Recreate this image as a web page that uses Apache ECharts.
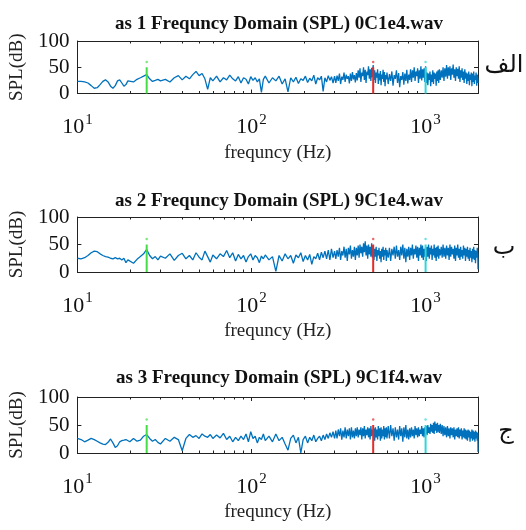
<!DOCTYPE html>
<html>
<head>
<meta charset="utf-8">
<script src="https://cdn.jsdelivr.net/npm/echarts@6/dist/echarts.min.js"></script>
<style>html,body{margin:0;padding:0;background:#fff;}#c{width:526px;height:530px;}</style>
</head>
<body>
<div id="c"></div>
<script>
// ---- data ----
const freqs = [10,10.5,11,11.5,12,12.5,13,13.5,14,14.5,15,15.5,16,16.5,17,17.5,18,18.5,19,19.5,20,21,22,23,24,25,26,27,28,29,30,
32,34,36,38,40,42,44,46,48,50,52,54,56,58,60,
63,66,69,72,75,78,81,84,87,90,93,96,99,102,105,108,111,114,117,120,
126,132,138,144,150,156,162,168,174,180,186,192,198,204,210,216,222,228,234,240,246,252,258,264,270,276,282,288,294,300,
305,310,315,320,325,330,335,340,345,350,355,360,365,370,375,380,385,390,395,400,
405,410,415,420,425,430,435,440,445,450,455,460,465,470,475,480,485,490,495,500,
505,510,515,520,525,530,535,540,545,550,555,560,565,570,575,580,585,590,595,600,
610,620,630,640,650,660,670,680,690,700,710,720,730,740,750,760,770,780,790,800,
810,820,830,840,850,860,870,880,890,900,910,920,930,940,950,960,970,980,990,1000,
1010,1020,1030,1040,1050,1060,1070,1080,1090,1100,1110,1120,1130,1140,1150,1160,1170,1180,1190,1200,
1215,1230,1245,1260,1275,1290,
1305,1320,1335,1350,1365,1380,1395,1410,1425,1440,1455,1470,1485,1500,1515,1530,1545,1560,1575,1590,1605,1620,1635,1650,1665,1680,1695,
1710,1725,1740,1755,1770,1785,1800,1815,1830,1845,1860,1875,1890,1905,1920,1935,1950,1965,1980,1995,2000];

const splA = [23,23,22,20,15,10,11,17,23,26,22,14,10,15,24,26,20,14,17,24,26,22,27,30,33,36,28,23,25,27,24,
27,22,30,34,26,33,28,36,42,34,38,28,8,30,24,
33,22,30,26,35,28,24,32,20,30,27,18,32,25,30,22,28,2,27,33,
20,30,24,33,18,28,3,30,22,31,19,28,25,33,21,29,24,35,18,30,26,33,4,30,22,34,25,32,20,33,
20,34,24,38,18,32,26,40,22,36,28,33,19,38,24,41,27,35,21,39,
25,44,30,48,22,40,33,50,26,45,20,42,35,52,28,46,24,49,31,54,
26,44,20,40,30,46,18,38,25,43,16,36,28,45,22,41,14,35,27,40,
18,37,24,42,15,35,28,44,20,39,12,33,26,41,17,38,24,45,19,36,
26,46,22,44,30,50,24,42,33,48,20,44,28,52,25,46,30,48,22,52,
20,40,16,38,26,42,14,36,22,44,18,40,28,38,15,42,24,44,20,46,
26,44,30,50,24,48,
32,54,28,50,34,52,26,48,36,55,30,46,24,50,33,47,28,52,22,44,30,48,26,42,20,46,28,
40,18,38,24,42,16,36,26,40,14,38,22,42,18,34,26,40,15,36,28,20];

const splB = [25,24,26,30,35,38,37,33,30,28,27,25,24,26,24,25,22,25,17,22,24,16,23,28,33,41,30,24,28,22,29,
25,33,21,30,34,24,30,22,35,27,22,38,28,18,31,
24,33,28,39,26,35,20,32,24,30,18,28,33,22,30,26,17,29,24,31,
22,28,1,30,20,33,24,30,16,31,26,35,19,30,22,32,14,28,24,34,22,36,26,38,24,40,22,42,26,38,
24,40,28,44,22,38,30,46,26,42,20,44,32,48,24,40,28,46,22,44,
30,48,26,50,34,46,28,52,36,56,30,48,24,50,32,46,28,52,26,48,
22,42,28,46,20,40,30,44,24,38,18,42,28,46,22,40,30,44,20,40,
26,44,20,42,30,46,24,48,28,40,22,46,30,50,24,44,18,42,28,46,
22,44,30,50,24,42,32,48,26,46,20,44,30,50,26,48,22,42,28,46,
20,46,28,50,24,44,32,48,22,42,30,50,26,44,20,46,28,48,24,42,
30,46,26,50,28,44,
24,48,30,44,22,50,28,46,32,42,24,48,20,44,30,50,26,42,22,46,28,40,24,48,30,44,20,
42,28,46,24,40,20,44,26,38,18,42,24,46,22,40,16,38,26,44,30,5];

const splC = [26,24,20,23,26,24,21,18,16,15,19,25,18,10,13,20,22,23,24,21,20,26,21,23,30,33,26,21,24,19,16,
26,21,28,24,4,26,33,28,31,26,34,30,28,33,26,
32,27,35,24,30,20,28,22,30,24,34,20,38,26,30,18,28,24,34,22,
30,20,34,22,28,16,5,26,32,18,28,0,24,30,18,28,22,32,20,26,30,22,32,24,34,26,36,28,38,26,
40,26,42,30,44,24,40,28,46,26,42,30,44,24,46,28,40,26,44,30,
46,28,42,32,46,24,44,30,48,26,42,32,46,28,44,24,48,30,42,32,
44,22,46,28,42,24,48,30,44,22,46,26,42,30,48,24,44,28,46,26,
48,26,50,30,44,22,46,28,42,24,48,30,44,20,46,28,50,26,42,24,
44,28,46,30,42,26,48,32,44,28,46,30,42,34,48,30,44,28,46,34,
48,32,50,36,46,34,52,38,50,36,54,34,56,40,52,36,54,38,50,36,
52,34,50,30,48,32,
46,28,48,30,44,26,46,32,44,28,46,24,42,30,44,28,46,26,42,30,44,24,40,28,44,26,42,
24,40,22,42,28,40,20,38,26,42,22,40,24,38,20,40,26,38,22,36,2];

const seriesValues = [splA, splB, splC];
const titles = ['as 1 Frequncy Domain (SPL) 0C1e4.wav','as 2 Frequncy Domain (SPL) 9C1e4.wav','as 3 Frequncy Domain (SPL) 9C1f4.wav'];
const sideLabels = ['الف','ب','ج'];
const markerFreqs = [25, 500, 1000];
const markerTop = 50;
const markerDot = 60;
const xName = 'frequncy (Hz)';
const yName = 'SPL(dB)';

// ---- layout / style ----
const gridTops = [41, 217, 397];
const gridHeights = [52.5, 55, 56];
const gridLeft = 74, gridWidth = 404;
const titleTops = [10, 187, 364];
const sideLabelPos = [[504, 66], [504, 248], [506, 432]];
const markerColors = ['#45dd45', '#e42a2a', '#2ed6d6'];
const serif = 'Liberation Serif';

const chart = echarts.init(document.getElementById('c'), null, {renderer: 'canvas'});

const grid = [], xAxis = [], yAxis = [], series = [], title = [], graphic = [];

function xAx(i, pos) {
  const bottom = pos === 'bottom';
  return {
    type: 'log', logBase: 10, min: 10, max: 2000, gridIndex: i, position: pos,
    name: bottom ? xName : '', nameLocation: 'middle', nameGap: 50,
    nameTextStyle: {fontFamily: serif, fontSize: 19, color: '#222'},
    axisLine: {show: true, onZero: false, lineStyle: {color: '#222', width: 1}},
    axisTick: {show: true, inside: true, length: 4, lineStyle: {color: '#222', width: 1}},
    minorTick: {show: true, splitNumber: 9, length: 2.5, lineStyle: {color: '#222', width: 1}},
    splitLine: {show: false}, minorSplitLine: {show: false},
    axisLabel: {
      show: bottom, showMaxLabel: false, margin: 19, color: '#111',
      formatter: function (v) {
        const e = Math.round(Math.log10(v));
        return '{b|10}{s|' + e + '}';
      },
      rich: {
        b: {fontFamily: serif, fontSize: 22, color: '#111', lineHeight: 26, verticalAlign: 'bottom'},
        s: {fontFamily: serif, fontSize: 15, color: '#111', lineHeight: 26, verticalAlign: 'top', padding: [0, 0, 0, 1]}
      }
    }
  };
}
function yAx(i, pos) {
  const left = pos === 'left';
  return {
    type: 'value', min: 0, max: 100, interval: 50, gridIndex: i, position: pos,
    name: left ? yName : '', nameLocation: 'middle', nameGap: 46, nameRotate: 90,
    nameTextStyle: {fontFamily: serif, fontSize: 19, color: '#222'},
    axisLine: {show: true, onZero: false, lineStyle: {color: '#222', width: 1}},
    axisTick: {show: true, inside: true, length: 4, lineStyle: {color: '#222', width: 1}},
    splitLine: {show: false},
    axisLabel: {show: left, margin: 8, fontFamily: serif, fontSize: 21, color: '#111'}
  };
}

for (let i = 0; i < 3; i++) {
  grid.push({left: gridLeft, top: gridTops[i], width: gridWidth, height: gridHeights[i], containLabel: false, show: false});
  xAxis.push(xAx(i, 'bottom'));
  xAxis.push(xAx(i, 'top'));
  yAxis.push(yAx(i, 'left'));
  yAxis.push(yAx(i, 'right'));
  title.push({
    text: titles[i], left: gridLeft + gridWidth / 2 - 2, top: titleTops[i], textAlign: 'center',
    textStyle: {fontFamily: serif, fontSize: 19, fontWeight: 'bold', color: '#111'}
  });
  const vals = seriesValues[i];
  series.push({
    type: 'line', xAxisIndex: 2 * i, yAxisIndex: 2 * i, showSymbol: false, symbol: 'none',
    sampling: null, animation: false, z: 2,
    lineStyle: {color: '#0072bd', width: 1.3},
    data: freqs.map((f, k) => [f, vals[k]])
  });
  markerFreqs.forEach((f, m) => {
    series.push({
      type: 'line', xAxisIndex: 2 * i, yAxisIndex: 2 * i, showSymbol: false, symbol: 'none',
      animation: false, z: 3, lineStyle: {color: markerColors[m], width: 2},
      data: [[f, 0], [f, markerTop]]
    });
    series.push({
      type: 'scatter', xAxisIndex: 2 * i, yAxisIndex: 2 * i, animation: false, z: 3,
      symbolSize: 2.5, itemStyle: {color: markerColors[m], opacity: 0.7},
      data: [[f, markerDot]]
    });
  });
  graphic.push({
    type: 'text', x: sideLabelPos[i][0], y: sideLabelPos[i][1],
    style: {text: sideLabels[i], font: '24px "DejaVu Sans"', fill: '#111', textAlign: 'center', textVerticalAlign: 'middle'}
  });
}

chart.setOption({
  animation: false,
  backgroundColor: '#fff',
  title, grid, xAxis, yAxis, series, graphic
});
</script>
</body>
</html>
